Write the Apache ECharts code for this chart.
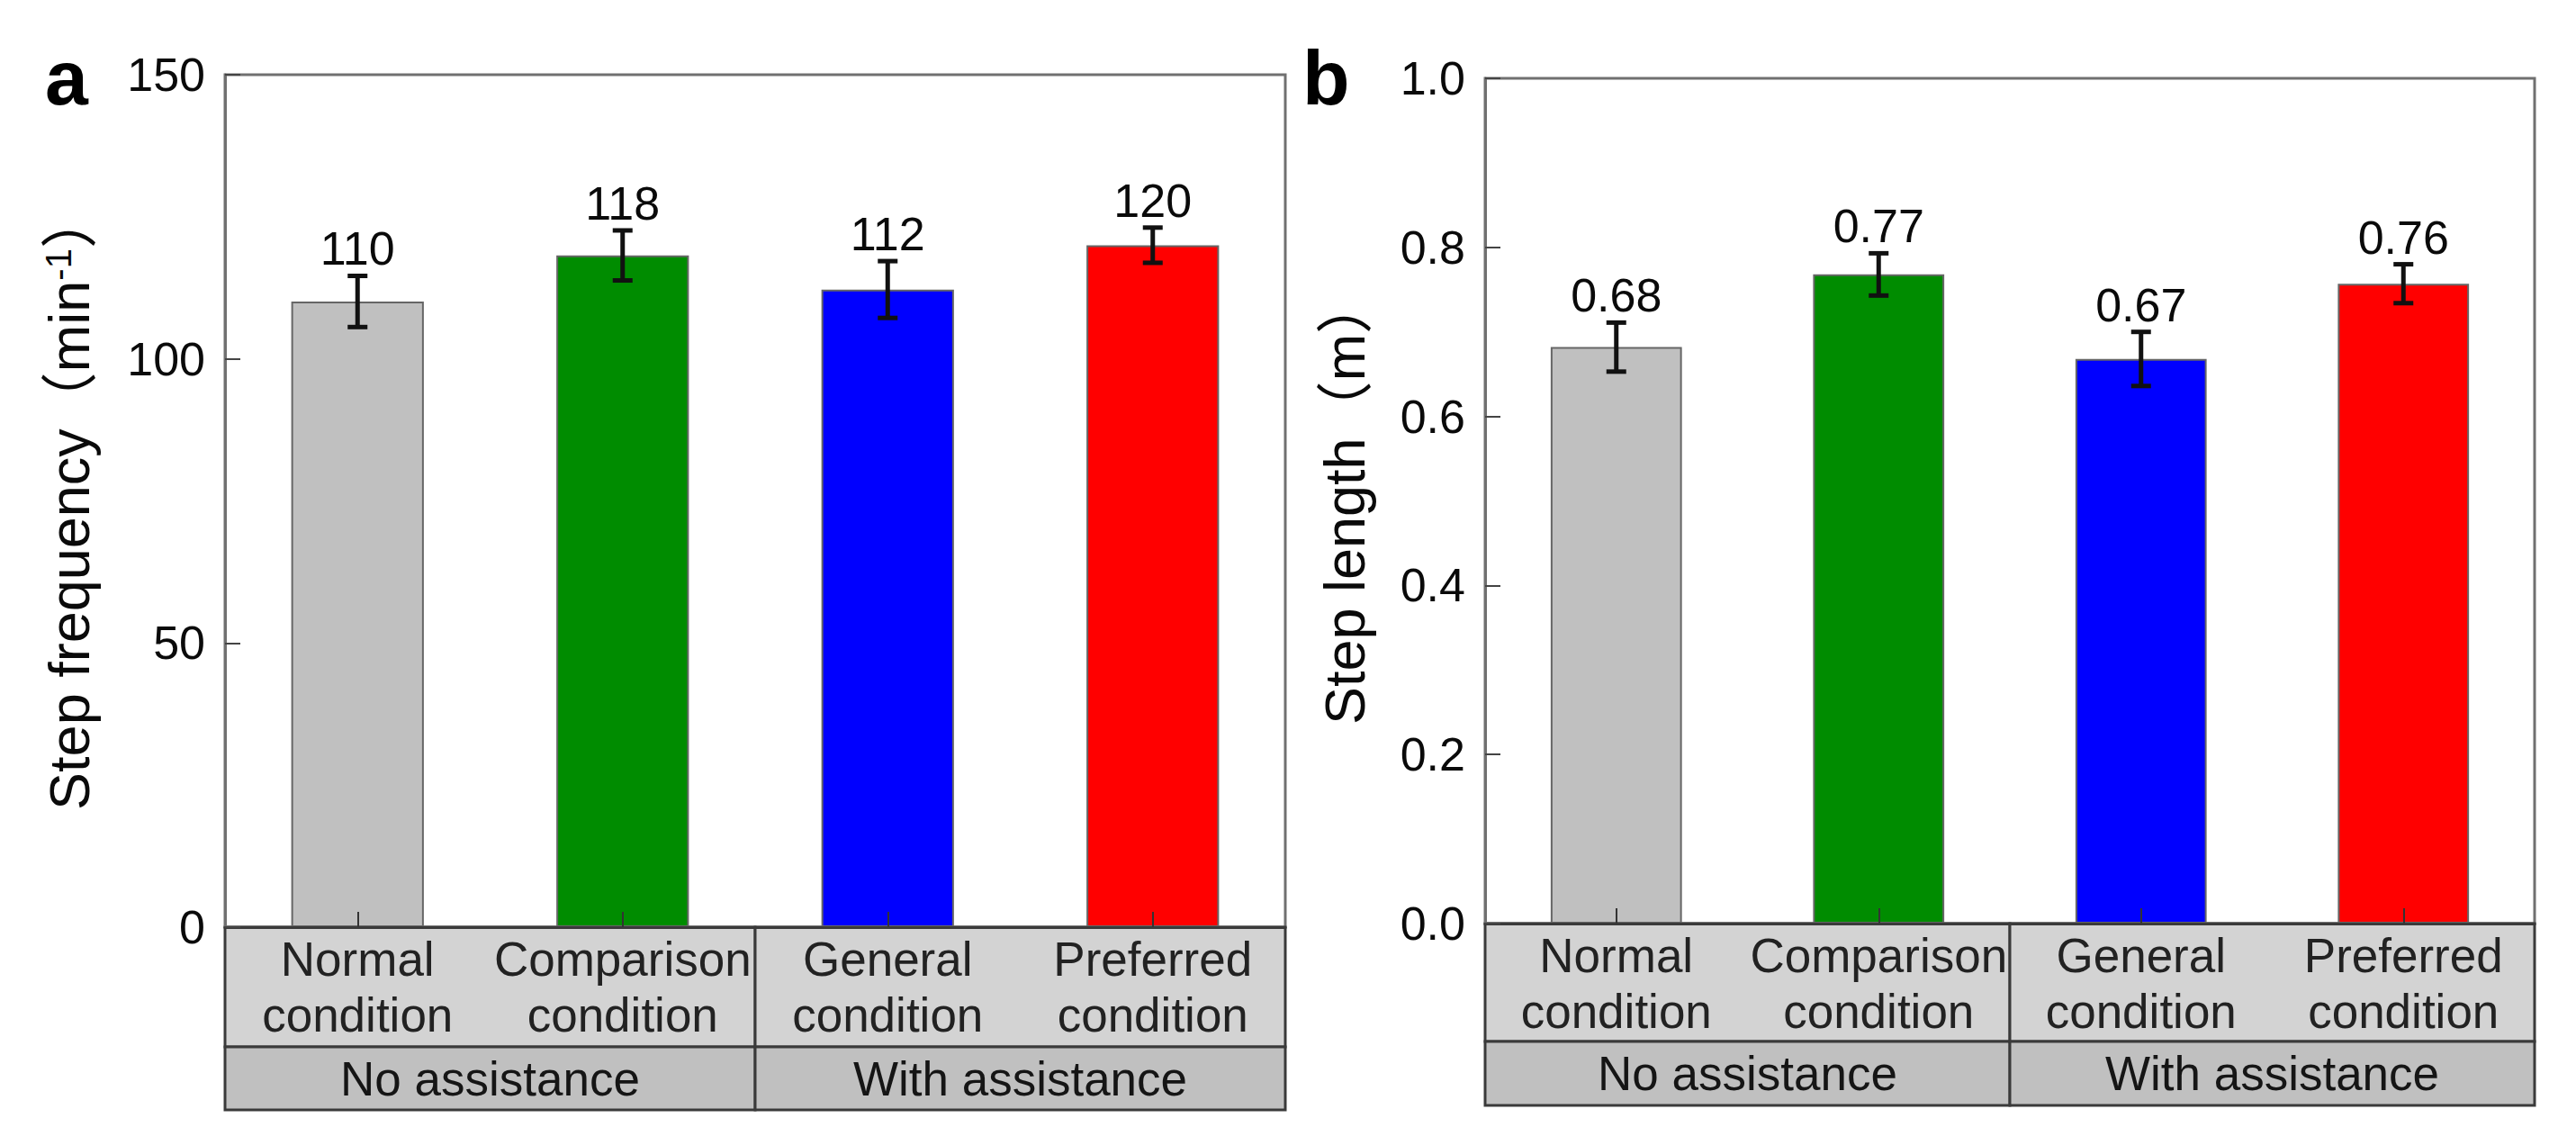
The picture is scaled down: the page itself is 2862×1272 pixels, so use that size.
<!DOCTYPE html>
<html>
<head>
<meta charset="utf-8">
<script src="https://cdn.jsdelivr.net/npm/echarts@6/dist/echarts.min.js"></script>
<style>
html,body{margin:0;padding:0;background:#ffffff;}
#c{width:2862px;height:1272px;}
</style>
</head>
<body>
<div id="c"></div>
<script>
// ---------------- data ----------------
const categories = ['Normal condition', 'Comparison condition', 'General condition', 'Preferred condition'];
const groups = ['No assistance', 'With assistance'];
const groupSpans = [[0, 1], [2, 3]];
const barColors = ['#c0c0c0', '#008c00', '#0000ff', '#ff0000'];

const freqMean = [110.1, 118.2, 112.2, 120.0];
const freqErr = [4.5, 4.4, 5.0, 3.1];
const freqTickLabels = ['0', '50', '100', '150'];

const lenMean = [0.682, 0.768, 0.668, 0.757];
const lenErr = [0.029, 0.025, 0.032, 0.023];
const lenTickLabels = ['0.0', '0.2', '0.4', '0.6', '0.8', '1.0'];

// ---------------- styling / layout ----------------
const FONT = '"Liberation Sans", Arial, "Noto Sans CJK SC", sans-serif';

const panels = [
  {
    grid: {left: 250, top: 83, width: 1178, height: 947},
    mean: freqMean, err: freqErr, ticks: freqTickLabels,
    min: 0, max: 150, interval: 50,
    name: '{a|Step frequency（min}{s|-1}{a|）}', nameGap: 142,
    fmt: v => v.toFixed(0),
    row1: 133, row2: 70,
    letter: 'a', letterX: 50
  },
  {
    grid: {left: 1650, top: 87, width: 1166, height: 939},
    mean: lenMean, err: lenErr, ticks: lenTickLabels,
    min: 0, max: 1, interval: 0.2,
    name: '{a|Step length（m）}', nameGap: 125,
    fmt: v => v.toFixed(2),
    row1: 131, row2: 71,
    letter: 'b', letterX: 1447
  }
];

const chart = echarts.init(document.getElementById('c'), null, {renderer: 'svg'});

const grids = [], xAxes = [], yAxes = [], series = [], graphics = [];

panels.forEach((p, i) => {
  grids.push(Object.assign({}, p.grid, {
    show: true, borderColor: '#707070', borderWidth: 3,
    backgroundColor: 'transparent', containLabel: false, outerBoundsMode: 'none'
  }));

  xAxes.push({
    type: 'category', gridIndex: i, data: categories, position: 'bottom', z: 5,
    axisLine: {show: true, lineStyle: {color: '#3a3a3a', width: 3}},
    axisTick: {show: true, inside: true, alignWithLabel: true, length: 17, lineStyle: {color: '#333', width: 2}},
    axisLabel: {
      interval: 0, formatter: v => v.replace(' ', '\n'),
      fontFamily: FONT, fontSize: 53, lineHeight: 62, color: '#222', margin: 4
    },
    splitLine: {show: false}
  });
  xAxes.push({
    type: 'category', gridIndex: i, data: groups, position: 'bottom', offset: p.row1, z: 5,
    axisLine: {show: false}, axisTick: {show: false},
    axisLabel: {interval: 0, fontFamily: FONT, fontSize: 53, lineHeight: p.row2, color: '#151515', margin: 0},
    splitLine: {show: false}
  });

  yAxes.push({
    type: 'value', gridIndex: i, min: p.min, max: p.max, interval: p.interval, position: 'left', z: 5,
    axisLine: {show: true, lineStyle: {color: '#707070', width: 3}},
    axisTick: {show: true, inside: true, length: 17, lineStyle: {color: '#444', width: 2}},
    axisLabel: {
      fontFamily: FONT, fontSize: 52, color: '#0a0a0a', margin: 22, padding: [0, 0, 6, 0],
      formatter: v => p.ticks[Math.round((v - p.min) / p.interval)]
    },
    splitLine: {show: false},
    name: p.name, nameLocation: 'middle', nameRotate: 90, nameGap: p.nameGap,
    nameTextStyle: {
      rich: {
        a: {fontFamily: FONT, fontSize: 63, color: '#0a0a0a'},
        s: {fontFamily: FONT, fontSize: 40, color: '#0a0a0a', verticalAlign: 'top'}
      }
    }
  });

  // category table cells (drawn from the category axis scale)
  series.push({
    type: 'custom', xAxisIndex: 2 * i, yAxisIndex: i, z: 1, silent: true,
    data: groupSpans.map(s => [s[0], 0, s[1]]),
    encode: {x: 0, y: 1},
    renderItem: (params, api) => {
      const s = api.value(0), e = api.value(2);
      const a = api.coord([s, 0]);
      const b = api.coord([e, 0]);
      const bw = api.size([1, 0])[0];
      const x0 = a[0] - bw / 2, x1 = b[0] + bw / 2, y0 = a[1];
      return {
        type: 'group',
        children: [
          {type: 'rect', shape: {x: x0, y: y0, width: x1 - x0, height: p.row1},
           style: {fill: '#d3d3d3', stroke: '#3a3a3a', lineWidth: 3}},
          {type: 'rect', shape: {x: x0, y: y0 + p.row1, width: x1 - x0, height: p.row2},
           style: {fill: '#c0c0c0', stroke: '#3a3a3a', lineWidth: 3}}
        ]
      };
    }
  });

  // bars
  series.push({
    type: 'bar', xAxisIndex: 2 * i, yAxisIndex: i, z: 2,
    barWidth: '50%',
    data: p.mean.map((v, k) => ({value: v, itemStyle: {color: barColors[k]}})),
    itemStyle: {borderColor: '#666', borderWidth: 2}
  });

  // error bars + value labels
  series.push({
    type: 'custom', xAxisIndex: 2 * i, yAxisIndex: i, z: 4, silent: true,
    data: p.mean.map((v, k) => [k, v, p.err[k]]),
    encode: {x: 0, y: 1},
    renderItem: (params, api) => {
      const k = api.value(0), m = api.value(1), e = api.value(2);
      const top = api.coord([k, m + e]);
      const bot = api.coord([k, m - e]);
      const x = top[0], hw = 11;
      const ls = {stroke: '#111', lineWidth: 5};
      return {
        type: 'group',
        children: [
          {type: 'line', shape: {x1: x, y1: top[1], x2: x, y2: bot[1]}, style: ls},
          {type: 'line', shape: {x1: x - hw, y1: top[1], x2: x + hw, y2: top[1]}, style: ls},
          {type: 'line', shape: {x1: x - hw, y1: bot[1], x2: x + hw, y2: bot[1]}, style: ls},
          {type: 'text', style: {
            x: x, y: top[1] - 4, text: p.fmt(m),
            fontFamily: FONT, fontSize: 52, fill: '#0a0a0a',
            align: 'center', verticalAlign: 'bottom'
          }}
        ]
      };
    }
  });

  graphics.push({
    type: 'text', x: p.letterX, y: 86, z: 10,
    style: {text: p.letter, fontFamily: FONT, fontSize: 86, fontWeight: 'bold', fill: '#000',
            align: 'left', verticalAlign: 'middle'}
  });
});

chart.setOption({
  backgroundColor: '#ffffff',
  animation: false,
  textStyle: {fontFamily: FONT},
  grid: grids,
  xAxis: xAxes,
  yAxis: yAxes,
  series: series,
  graphic: graphics
});
</script>
</body>
</html>
